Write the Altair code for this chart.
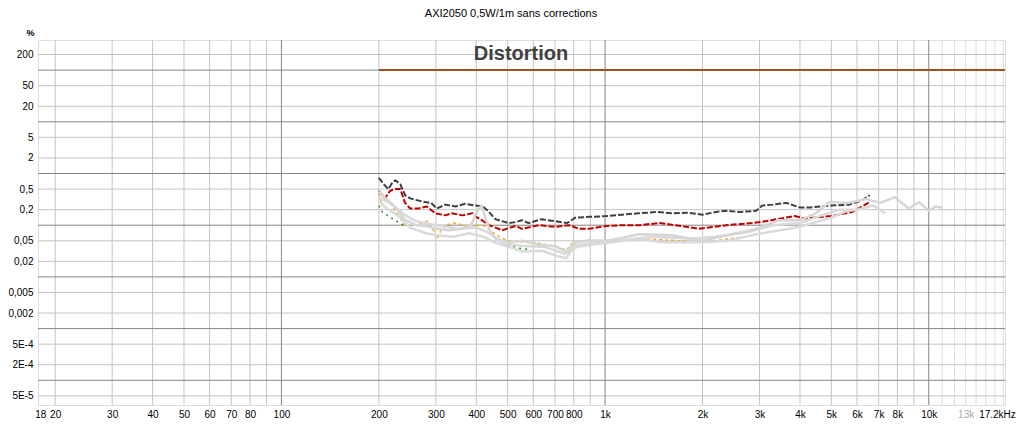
import altair as alt
import pandas as pd

# ---------------- axis ticks ----------------
x_tick_values = [18, 20, 30, 40, 50, 60, 70, 80, 100, 200, 300, 400, 500, 600, 700, 800,
                 1000, 2000, 3000, 4000, 5000, 6000, 7000, 8000, 10000, 13000, 17200]
x_tick_labels = ["18", "20", "30", "40", "50", "60", "70", "80", "100", "200", "300", "400",
                 "500", "600", "700", "800", "1k", "2k", "3k", "4k", "5k", "6k", "7k", "8k",
                 "10k", "13k", "17,2kHz"]
y_tick_values = [200, 50, 20, 5, 2, 0.5, 0.2, 0.05, 0.02, 0.005, 0.002, 0.0005, 0.0002, 0.00005]
y_tick_labels = ["200", "50", "20", "5", "2", "0,5", "0,2", "0,05", "0,02", "0,005", "0,002",
                 "5E-4", "2E-4", "5E-5"]

x_grid_minor = [20, 30, 40, 50, 60, 70, 80, 90, 200, 300, 400, 500, 600, 700, 800, 900,
                2000, 3000, 4000, 5000, 6000, 7000, 8000, 9000]
x_grid_faint = [11000, 12000, 13000, 14000, 15000, 16000, 17000]
x_grid_major = [100, 1000, 10000]
y_grid_minor = y_tick_values
y_grid_major = [100, 10, 1, 0.1, 0.01, 0.001, 0.0001]

# ---------------- series ----------------
thd_freq = [200, 207, 214, 220, 225, 233, 241, 250, 259, 278, 290, 302, 321, 345, 370, 397, 420,
            438, 459, 480, 504, 530, 553, 580, 637, 701, 762, 810, 893, 1010, 1130, 1270, 1450,
            1610, 1800, 2000, 2200, 2370, 2600, 2930, 3060, 3300, 3630, 4000, 4300, 5000, 5680,
            6200, 6570]
thd_pct = [0.82, 0.62, 0.5, 0.66, 0.74, 0.62, 0.38, 0.33, 0.31, 0.28, 0.27, 0.21, 0.25, 0.23,
           0.26, 0.24, 0.23, 0.18, 0.13, 0.12, 0.11, 0.115, 0.125, 0.11, 0.13, 0.12, 0.11, 0.14,
           0.145, 0.15, 0.16, 0.17, 0.18, 0.17, 0.175, 0.16, 0.18, 0.19, 0.18, 0.19, 0.24, 0.25,
           0.27, 0.22, 0.22, 0.24, 0.25, 0.3, 0.38]

h2_freq = [200, 209, 216, 222, 233, 241, 250, 265, 281, 299, 321, 336, 362, 389, 400, 416, 438,
           481, 530, 553, 625, 701, 774, 832, 893, 1010, 1130, 1270, 1470, 1650, 1950, 2370,
           2850, 3150, 3850, 4150, 5000, 5800, 6570]
h2_pct = [0.46, 0.33, 0.45, 0.5, 0.5, 0.27, 0.21, 0.21, 0.23, 0.17, 0.155, 0.17, 0.155, 0.17,
          0.145, 0.125, 0.1, 0.08, 0.097, 0.085, 0.1, 0.093, 0.1, 0.085, 0.085, 0.097, 0.1, 0.1,
          0.11, 0.1, 0.085, 0.1, 0.11, 0.12, 0.15, 0.135, 0.15, 0.18, 0.28]

g1_freq = [200, 210, 218, 228, 240, 260, 280, 300, 330, 360, 385, 405, 415, 430, 445, 460, 500,
           553, 625, 700, 760, 810, 893, 1010, 1130, 1270, 1610, 2000, 2370, 2930, 3450, 4000,
           4480, 4940, 5600, 6420, 7080, 7850, 8660, 9340, 10000, 10500, 11000]
g1_pct = [0.45, 0.33, 0.27, 0.2, 0.13, 0.1, 0.097, 0.085, 0.08, 0.085, 0.1, 0.2, 0.24, 0.12,
          0.07, 0.055, 0.047, 0.05, 0.042, 0.039, 0.031, 0.047, 0.05, 0.05, 0.057, 0.067, 0.064,
          0.05, 0.064, 0.085, 0.125, 0.125, 0.17, 0.28, 0.27, 0.32, 0.27, 0.35, 0.21, 0.28, 0.19,
          0.23, 0.22]

g2_freq = [200, 210, 230, 250, 280, 300, 340, 380, 420, 460, 520, 553, 640, 700, 760, 800, 900,
           1010, 1270, 1500, 2000, 2400, 2930, 3700, 4150, 5000, 5600, 6100]
g2_pct = [0.3, 0.22, 0.15, 0.09, 0.07, 0.064, 0.06, 0.07, 0.06, 0.045, 0.036, 0.031, 0.032,
          0.026, 0.023, 0.04, 0.045, 0.045, 0.055, 0.047, 0.047, 0.05, 0.067, 0.085, 0.1, 0.14,
          0.19, 0.2]

g3_freq = [200, 220, 240, 260, 300, 350, 400, 440, 480, 550, 650, 750, 820, 900, 1100, 1400,
           1800, 2200, 2800, 3300, 4000, 4600, 5300, 6000, 6750, 7340]
g3_pct = [0.35, 0.25, 0.16, 0.12, 0.1, 0.085, 0.09, 0.07, 0.045, 0.04, 0.038, 0.028, 0.038,
          0.042, 0.05, 0.06, 0.055, 0.06, 0.075, 0.1, 0.11, 0.15, 0.2, 0.2, 0.24, 0.17]

h3_freq = [200, 205, 214, 222, 232, 240, 259, 282, 295, 303, 315, 340, 379, 420, 447, 470, 500,
           600, 700, 760, 790, 850, 900, 1000, 1300, 2000, 2700]
h3_pct = [0.42, 0.24, 0.3, 0.22, 0.14, 0.097, 0.1, 0.12, 0.08, 0.054, 0.097, 0.11, 0.097, 0.1,
          0.075, 0.06, 0.05, 0.046, 0.04, 0.033, 0.045, 0.05, 0.052, 0.05, 0.055, 0.047, 0.06]

h4a_freq = [200, 205, 214, 238]
h4a_pct = [0.24, 0.18, 0.15, 0.1]
h4b_freq = [500, 540, 580]
h4b_pct = [0.042, 0.036, 0.034]

ref_level = [100]
ref_start = [200]
ref_end = [17200]

title_text = ["AXI2050 0,5W/1m sans corrections"]
panel_text = ["Distortion"]


def series(name, f, v):
    return pd.DataFrame({"freq": f, "pct": v, "series": name})


FONT = "Liberation Sans"
xscale = alt.Scale(type="log", domain=[17.7, 17200], nice=False)
yscale = alt.Scale(type="log", domain=[3.33e-5, 382], nice=False)

x_label_expr = "{}[indexof({}, datum.value)]".format(
    "[" + ",".join("'%s'" % s for s in x_tick_labels) + "]",
    "[" + ",".join(repr(v) for v in x_tick_values) + "]")
y_label_expr = "{}[indexof({}, datum.value)]".format(
    "[" + ",".join("'%s'" % s for s in y_tick_labels) + "]",
    "[" + ",".join(repr(v) for v in y_tick_values) + "]")

x_axis = alt.Axis(values=x_tick_values, labelExpr=x_label_expr, grid=False, domain=False,
                  ticks=False, labelPadding=4, labelFont=FONT, labelFontSize=10,
                  labelFlush=False, labelOverlap=False, labelBound=False, title=None,
                  labelOffset={"condition": {"test": "datum.value == 17200", "value": -8},
                               "value": 0},
                  labelColor={"condition": {"test": "datum.value == 13000", "value": "#a8a8a8"},
                              "value": "#000000"})
y_axis = alt.Axis(values=y_tick_values, labelExpr=y_label_expr, grid=False, domain=False,
                  ticks=False, labelPadding=5, labelFont=FONT, labelFontSize=10,
                  labelColor="#000000", labelFlush=False, labelOverlap=False, labelBound=False,
                  title="%", titleAngle=0, titleX=-8, titleY=-8, titleAlign="center",
                  titleBaseline="middle", titleFont=FONT, titleFontSize=9,
                  titleFontWeight="bold", titleColor="#000000")


def vgrid(values, color):
    return alt.Chart(pd.DataFrame({"freq": values})).mark_rule(
        color=color, strokeWidth=1).encode(x=alt.X("freq:Q", scale=xscale, axis=x_axis))


def hgrid(values, color):
    return alt.Chart(pd.DataFrame({"pct": values})).mark_rule(
        color=color, strokeWidth=1).encode(y=alt.Y("pct:Q", scale=yscale, axis=y_axis))


def line(df, color, width, dash=None):
    kw = dict(color=color, strokeWidth=width, strokeJoin="round", strokeCap="butt")
    if dash:
        kw["strokeDash"] = dash
    return alt.Chart(df).mark_line(**kw).encode(
        x=alt.X("freq:Q", scale=xscale, axis=x_axis),
        y=alt.Y("pct:Q", scale=yscale, axis=y_axis),
        detail="series:N",
        order="freq:Q")


ref = alt.Chart(pd.DataFrame({"y": ref_level, "x": ref_start, "x2": ref_end})).mark_rule(
    color="#a0521e", strokeWidth=2).encode(
    x=alt.X("x:Q", scale=xscale, axis=x_axis), x2="x2:Q",
    y=alt.Y("y:Q", scale=yscale, axis=y_axis))

label = alt.Chart(pd.DataFrame({"t": panel_text})).mark_text(
    font=FONT, fontSize=20, fontWeight="bold", color="#404040", align="center",
    baseline="middle").encode(text="t:N", x=alt.value(483), y=alt.value(14))

title = alt.Chart(pd.DataFrame({"t": title_text})).mark_text(
    font=FONT, fontSize=11, color="#000000", align="center",
    baseline="middle").encode(text="t:N", x=alt.value(473), y=alt.value(-26))

green = pd.concat([series("H4a", h4a_freq, h4a_pct), series("H4b", h4b_freq, h4b_pct)])

layers = [
    vgrid(x_grid_faint, "#dcdcdc"),
    vgrid(x_grid_minor, "#c4c4c4"),
    hgrid(y_grid_minor, "#c4c4c4"),
    vgrid(x_grid_major, "#858585"),
    hgrid(y_grid_major, "#858585"),
    ref,
    line(series("H3", h3_freq, h3_pct), "#e8b030", 1.5, [3, 3]),
    line(green, "#2e8b2e", 1.5, [2, 4]),
    line(series("H2", h2_freq, h2_pct), "#c00000", 2, [6, 2]),
    line(series("THD", thd_freq, thd_pct), "#404040", 2, [6, 2]),
    line(series("G3", g3_freq, g3_pct), "#dadada", 2.5),
    line(series("G2", g2_freq, g2_pct), "#dadada", 2.5),
    line(series("G1", g1_freq, g1_pct), "#d6d6d6", 2.5),
    label,
    title,
]

chart = alt.layer(*layers).properties(
    width=967, height=365,
    autosize=alt.AutoSizeParams(type="none"),
    padding={"left": 30, "top": 32, "right": 11, "bottom": 13},
).configure_view(stroke="#a8a8a8", strokeWidth=2).configure(background="white")

chart.save("out.html", embed_options={"renderer": "svg", "actions": False})
